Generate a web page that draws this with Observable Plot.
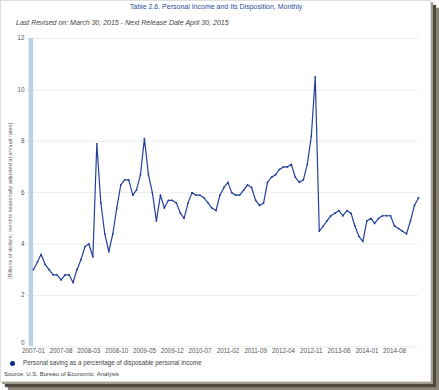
<!DOCTYPE html>
<html><head><meta charset="utf-8">
<script src="https://cdn.jsdelivr.net/npm/d3@7"></script>
<script src="https://cdn.jsdelivr.net/npm/@observablehq/plot@0.6"></script>
<style>
body{margin:0;background:#fff;font-family:"Liberation Sans",Arial,sans-serif;}
#frame{position:absolute;left:0;top:0;width:429px;height:380px;background:#fff;border:1px solid #dedede;
  box-shadow:2px 2px 0 #a39b8f,5px 5px 1px #4f483f,8px 8px 1px #8c857a;overflow:hidden}
#title{position:absolute;left:0;width:430px;top:2px;text-align:center;font-size:7px;color:#2a4e9a;white-space:nowrap}
#sub{position:absolute;left:15px;top:18px;font-size:7px;font-style:italic;color:#444;white-space:nowrap}
#ylab{position:absolute;left:9px;top:200px;font-size:5.6px;color:#666;white-space:nowrap;transform:translate(-50%,-50%) rotate(-90deg)}
#chart{position:absolute;left:0;top:30px}
#legend{position:absolute;left:9px;top:358px;font-size:6.3px;color:#444;white-space:nowrap}
#legend .dot{display:inline-block;width:5px;height:5px;border-radius:50%;background:#0c2b86;margin-right:8px;vertical-align:-1px}
#source{position:absolute;left:3px;top:370px;font-size:6px;color:#444;white-space:nowrap}
</style></head>
<body>
<div id="frame">
  <div id="title">Table 2.6. Personal Income and Its Disposition, Monthly</div>
  <div id="sub">Last Revised on: March 30, 2015 - Next Release Date April 30, 2015</div>
  <div id="ylab">[Billions of dollars; months seasonally adjusted at annual rates]</div>
  <div id="chart"></div>
  <div id="legend"><span class="dot"></span>Personal saving as a percentage of disposable personal income</div>
  <div id="source">Source: U.S. Bureau of Economic&nbsp; Analysis</div>
</div>
<script>
const firstMonth = "2007-01";
const lastMonth = "2015-02";
const savingRate = [
  3.0,3.3,3.6,3.2,3.0,2.8,2.8,2.6,2.8,2.8,2.5,3.0,
  3.4,3.9,4.0,3.5,7.9,5.6,4.4,3.7,4.4,5.4,6.3,6.5,
  6.5,5.9,6.1,6.7,8.1,6.7,6.0,4.9,5.9,5.4,5.7,5.7,
  5.6,5.2,5.0,5.6,6.0,5.9,5.9,5.8,5.6,5.4,5.3,5.9,
  6.2,6.4,6.0,5.9,5.9,6.1,6.3,6.2,5.7,5.5,5.6,6.4,
  6.6,6.7,6.9,7.0,7.0,7.1,6.6,6.4,6.5,7.1,8.2,10.5,
  4.5,4.7,4.9,5.1,5.2,5.3,5.1,5.3,5.2,4.7,4.3,4.1,
  4.9,5.0,4.8,5.0,5.1,5.1,5.1,4.7,4.6,4.5,4.4,4.9,
  5.5,5.8
];
const xTickLabels = ["2007-01","2007-08","2008-03","2008-10","2009-05","2009-12","2010-07","2011-02","2011-09","2012-04","2012-11","2013-06","2014-01","2014-08"];
const yTicks = [0,2,4,6,8,10,12];
const seriesName = "Personal saving as a percentage of disposable personal income";

const parse = d3.utcParse("%Y-%m");
const start = parse(firstMonth), end = parse(lastMonth);
const months = d3.utcMonth.range(start, d3.utcMonth.offset(end, 1));
const data = savingRate.map((v, i) => ({date: months[i], value: v}));
const xTicks = xTickLabels.map(parse);
const navy = "#23409a";

const chart = Plot.plot({
  width: 430, height: 329,
  marginTop: 7, marginBottom: 13, marginLeft: 32, marginRight: 12,
  style: {fontFamily: "'Liberation Sans', Arial, sans-serif", fontSize: "6.3px", color: "#555", background: "transparent", overflow: "visible"},
  x: {type: "utc", domain: [start, end], label: null},
  y: {domain: [0, 12], label: null},
  marks: [
    Plot.gridY(yTicks, {stroke: "#ececec", strokeOpacity: 1}),
    Plot.axisY(yTicks.filter(d => d > 0), {tickSize: 6, tickPadding: 3, stroke: "#ddd", tickFormat: d => d}),
    Plot.axisY([0], {tickSize: 0, tickPadding: 9, dy: -4, tickFormat: d => d}),
    Plot.axisX(xTicks, {tickSize: 0, tickPadding: 2, tickFormat: d3.utcFormat("%Y-%m")}),
    Plot.ruleX([start], {stroke: "#bed0e6", strokeWidth: 4.5, dx: -2.5}),
    Plot.lineY(data, {x: "date", y: "value", stroke: navy, strokeWidth: 1.2}),
    Plot.dot(data, {x: "date", y: "value", r: 0.9, fill: navy})
  ]
});
document.getElementById("chart").appendChild(chart);
</script>
</body></html>
